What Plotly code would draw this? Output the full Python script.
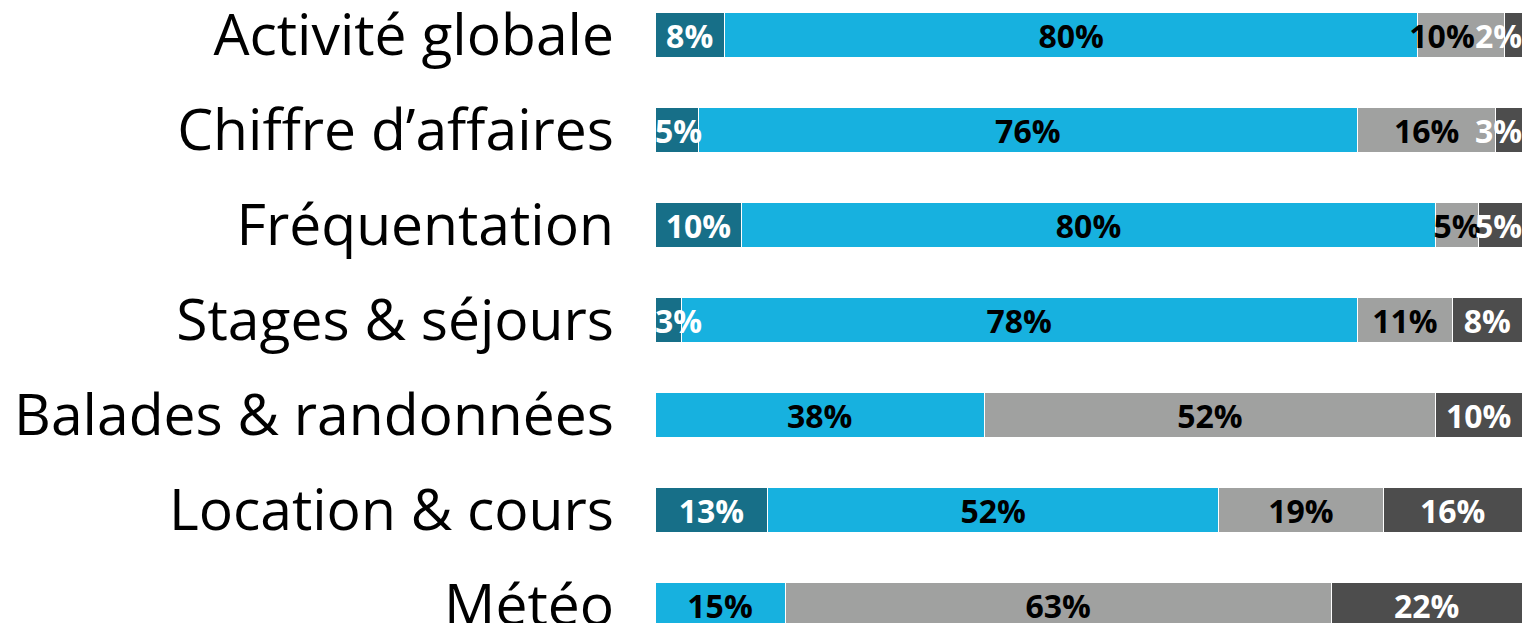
import plotly.graph_objects as go

categories = ['Activité globale', "Chiffre d\u2019affaires", 'Fréquentation',
              'Stages & séjours', 'Balades & randonnées', 'Location & cours', 'Météo']

series_names = ['S1', 'S2', 'S3', 'S4']
s1 = [8, 5, 10, 3, 0, 13, 0]
s2 = [80, 76, 80, 78, 38, 52, 15]
s3 = [10, 16, 5, 11, 52, 19, 63]
s4 = [2, 3, 5, 8, 10, 16, 22]

COLORS = ['#176f88', '#17b1df', '#a0a1a0', '#4d4d4d']
TEXT_COLORS = ['white', 'black', 'black', 'white']

all_series = [s1, s2, s3, s4]

fig = go.Figure()
for i, (name, vals) in enumerate(zip(series_names, all_series)):
    fig.add_trace(go.Bar(
        y=categories,
        x=vals,
        name=name,
        orientation='h',
        marker=dict(color=COLORS[i], line=dict(color='white', width=1)),
        hoverinfo='skip',
    ))

# value labels go in text traces on top so later bars don't hide them
starts = [0] * len(categories)
for i, vals in enumerate(all_series):
    xs, pos, txt = [], [], []
    for j, v in enumerate(vals):
        start = starts[j]
        txt.append('{}%'.format(v) if v else '')
        if i == 0 and v <= 5:
            xs.append(start)
            pos.append('middle right')
        elif i == 3 and v <= 5:
            xs.append(start + v)
            pos.append('middle left')
        elif i == 2 and s4[j] < 3:
            # neighbour too thin: slide the label left into the blue
            xs.append(start - 1)
            pos.append('middle right')
        else:
            xs.append(start + v / 2)
            pos.append('middle center')
        starts[j] = start + v
    fig.add_trace(go.Scatter(
        x=xs, y=categories, mode='text', text=txt, textposition=pos,
        yaxis='y2',
        textfont=dict(family='Open Sans', size=32, color=TEXT_COLORS[i], weight='bold'),
        hoverinfo='skip', showlegend=False,
    ))

# row 0 centred at 35px, rows 95px apart
top = -35 / 95
bottom = (623 - 35) / 95
nudge = 4.5 / 95  # svg text sits a little high; drop labels a few px

fig.update_layout(
    barmode='stack',
    bargap=0.525,
    width=1532,
    height=623,
    margin=dict(l=655, r=10, t=0, b=0),
    paper_bgcolor='white',
    plot_bgcolor='white',
    showlegend=False,
    xaxis=dict(range=[0, 100], visible=False, fixedrange=True, automargin=False),
    yaxis=dict(
        range=[bottom, top],
        automargin=False,
        showgrid=False, zeroline=False, showline=False,
        ticks='', ticklabelstandoff=40,
        tickfont=dict(family='Open Sans', size=57, color='black'),
    ),
    yaxis2=dict(
        overlaying='y', range=[bottom - nudge, top - nudge],
        visible=False, automargin=False,
        categoryorder='array', categoryarray=categories,
    ),
)

# drop the default 8px body margin so the figure fills the window
fig.write_html("out.html",
               config={'displayModeBar': False},
               post_script="document.body.style.margin='0';document.body.style.overflow='hidden';")
